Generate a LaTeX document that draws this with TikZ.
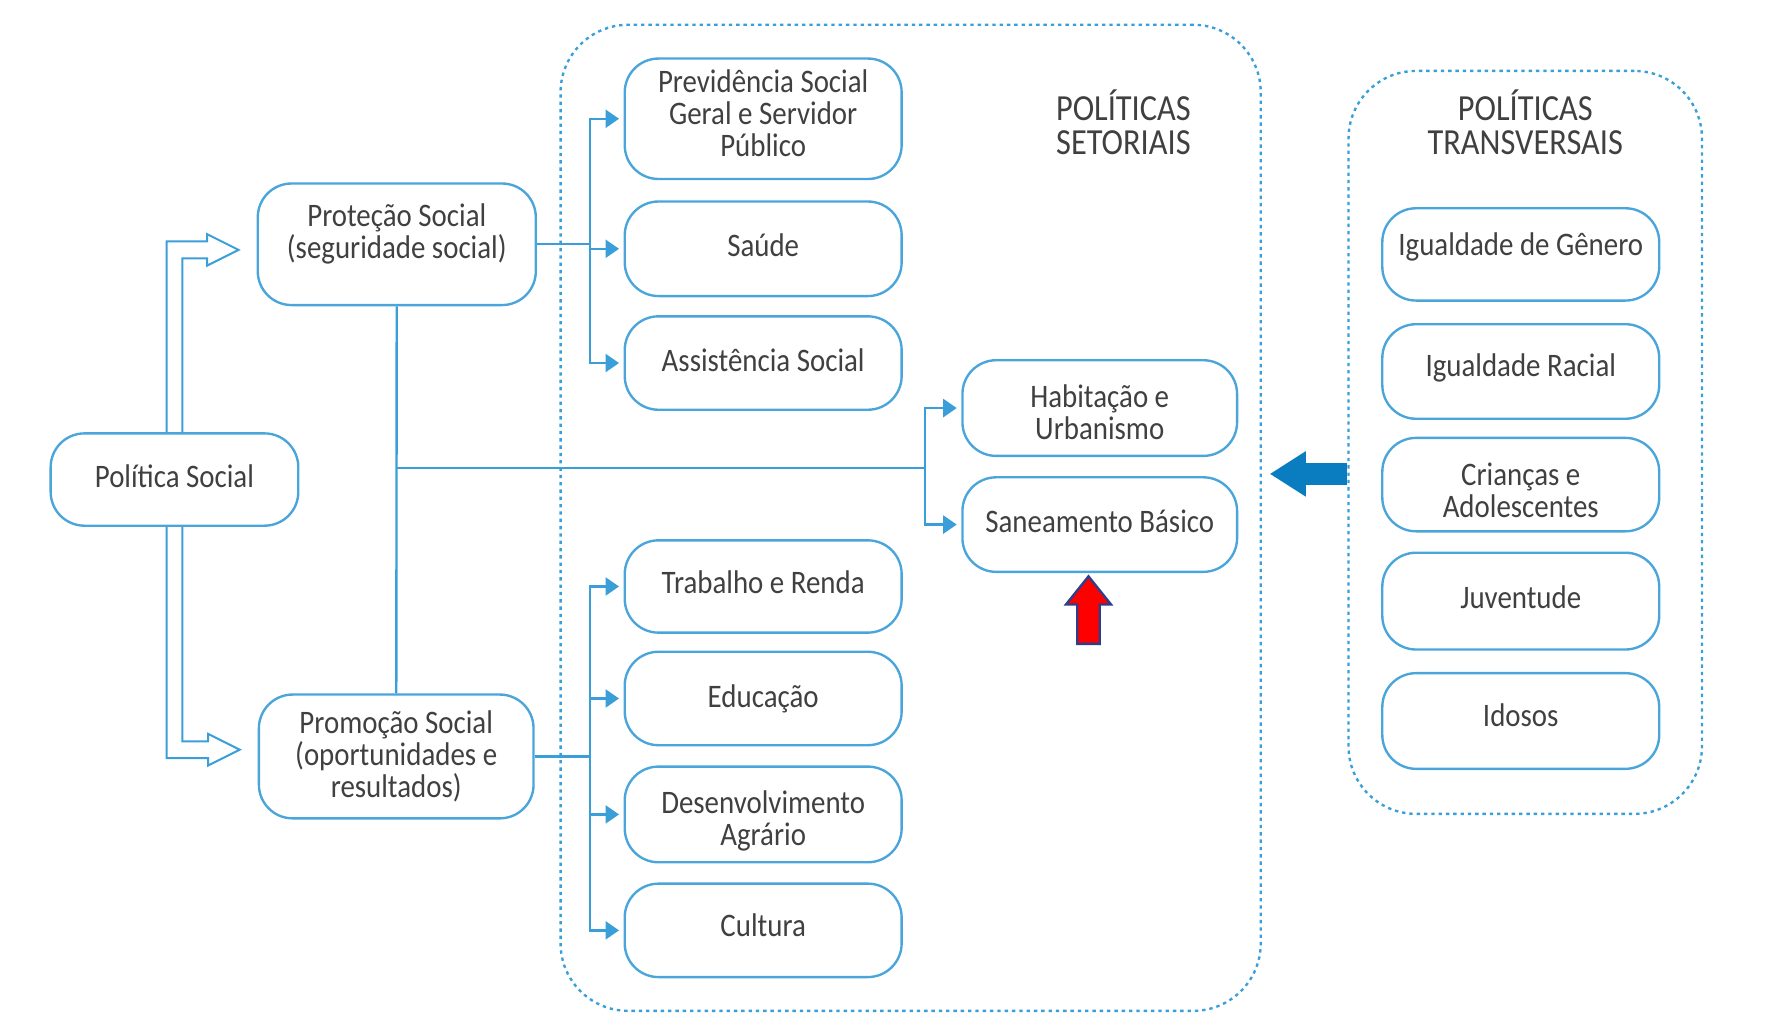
\documentclass[tikz,border=0pt]{standalone}
\usepackage{fontspec}
\setmainfont{Carlito}[FakeStretch=0.88]
\usetikzlibrary{arrows.meta,calc}
\definecolor{lineblue}{HTML}{3A9FD9}
\definecolor{boxblue}{HTML}{4AA5DA}
\definecolor{arrowblue}{HTML}{0A7DC0}
\definecolor{txtgray}{HTML}{404040}
\definecolor{navyline}{HTML}{2F3E8A}

\begin{document}
\begin{tikzpicture}
  \tikzstyle{box}=[draw=boxblue, line width=0.6pt, rounded corners=3mm, minimum width=2.46cm, inner sep=1pt, align=center, text=txtgray, font=\fontsize{8.3}{8.1}\selectfont]
  \tikzstyle{group}=[draw=lineblue, line width=0.6pt, dash pattern=on 0.3mm off 0.35mm, rounded corners=6mm]
  \tikzstyle{title}=[align=center, text=txtgray, font=\fontsize{9.3}{8.4}\selectfont]
  \tikzstyle{link}=[draw=lineblue, line width=0.6pt]
  \tikzstyle{arr}=[link, -{Triangle[length=1.2mm, width=1.6mm]}, shorten >=0.4mm]
  \tikzstyle{hollow}=[draw=lineblue, line width=0.5pt, line join=miter]
  \tikzstyle{bigarr}=[draw=arrowblue, line width=2mm, -{Triangle[length=3.2mm, width=3.8mm]}]
  \tikzstyle{redarr}=[draw=navyline, fill=red, line width=0.6pt, line join=miter]

  \useasboundingbox (0,0) rectangle (15.68,-9.14);

  % containers
  \node[group, minimum width=6.22cm, minimum height=8.76cm] (setor) at (8.09,-4.60) {};
  \node[group, minimum width=3.14cm, minimum height=6.60cm] (transv) at (13.55,-3.93) {};
  \node[title] (setortitle) at (9.98,-1.085) {POLÍTICAS\\SETORIAIS};
  \node[title] (transvtitle) at (13.55,-1.085) {POLÍTICAS\\TRANSVERSAIS};

  % left side
  \node[box, minimum width=2.20cm, minimum height=0.82cm, text depth=1.7pt] (ps) at (1.55,-4.26) {Política Social};
  \node[box, minimum width=2.47cm, minimum height=1.08cm, text depth=6.6pt] (prot) at (3.525,-2.17) {Proteção Social\\(seguridade social)};
  \node[box, minimum width=2.44cm, minimum height=1.10cm] (prom) at (3.52,-6.72) {Promoção Social\\(oportunidades e\\resultados)};

  % setoriais
  \node[box, minimum height=1.07cm, text depth=2.8pt] (prev) at (6.78,-1.055) {Previdência Social\\Geral e Servidor\\Público};
  \node[box, minimum height=0.84cm, text depth=1.7pt] (sau)  at (6.78,-2.21)  {Saúde};
  \node[box, minimum height=0.83cm, text depth=1.7pt] (ass)  at (6.78,-3.225) {Assistência Social};
  \node[box, minimum height=0.82cm, text depth=2.3pt] (trab) at (6.78,-5.21)  {Trabalho e Renda};
  \node[box, minimum height=0.83cm] (edu)  at (6.78,-6.205) {Educação};
  \node[box, minimum height=0.85cm, text height=17pt] (des) at (6.78,-7.235) {Desenvolvimento\\Agrário};
  \node[box, minimum height=0.83cm, text depth=2.8pt] (cul)  at (6.78,-8.265) {Cultura};
  \node[box, minimum width=2.44cm, minimum height=0.85cm, text height=16.2pt] (hab) at (9.77,-3.625) {Habitação e\\Urbanismo};
  \node[box, minimum width=2.44cm, minimum height=0.84cm, text depth=1.7pt] (san) at (9.77,-4.66) {Saneamento Básico};

  % transversais
  \node[box, minimum height=0.82cm, text depth=5.1pt] (gen) at (13.51,-2.26)  {Igualdade de Gênero};
  \node[box, minimum height=0.84cm, text depth=3.4pt] (rac) at (13.51,-3.30)  {Igualdade Racial};
  \node[box, minimum height=0.83cm, text height=16.9pt] (cri) at (13.51,-4.305) {Crianças e\\Adolescentes};
  \node[box, minimum height=0.86cm, text depth=2pt] (juv) at (13.51,-5.34)  {Juventude};
  \node[box, minimum height=0.85cm, text depth=2.8pt] (ido) at (13.51,-6.405) {Idosos};

  % branches
  \coordinate (b1) at (5.24,-2.17);
  \coordinate (b2) at (5.24,-6.72);
  \coordinate (j1) at (3.525,-4.16);
  \coordinate (j2) at (8.22,-4.16);

  \draw[link] (prot) -- (b1);
  \draw[arr] (b1) |- (prev);
  \draw[arr] (b1) |- (sau);
  \draw[arr] (b1) |- (ass);

  \draw[link] (prom) -- (b2);
  \draw[arr] (b2) |- (trab);
  \draw[arr] (b2) |- (edu);
  \draw[arr] (b2) |- (des);
  \draw[arr] (b2) |- (cul);

  \draw[link] (prot) -- (prom);
  \draw[link] (j1) -- (j2);
  \draw[arr] (j2) |- (hab);
  \draw[arr] (j2) |- (san);

  % hollow arrows
  \coordinate (h1) at ($(prot.west)+(-1.6mm,-0.5mm)$);
  \coordinate (h2) at ($(prom.west)+(-1.6mm,0.6mm)$);
  \draw[hollow] ([xshift=-0.7mm]ps.north) |- ($(h1)+(-2.8mm,0.75mm)$) -- ++(0,0.65mm) -- (h1)
    -- ($(h1)+(-2.8mm,-1.4mm)$) -- ++(0,0.65mm) -| ([xshift=0.7mm]ps.north);
  \draw[hollow] ([xshift=-0.7mm]ps.south) |- ($(h2)+(-2.8mm,-0.75mm)$) -- ++(0,-0.65mm) -- (h2)
    -- ($(h2)+(-2.8mm,1.4mm)$) -- ++(0,-0.65mm) -| ([xshift=0.7mm]ps.south);

  % transversais -> setoriais
  \coordinate (bt) at (11.28,-4.21);
  \draw[bigarr] (transv.west |- bt) -- (bt);

  % red marker
  \coordinate (rt) at (9.67,-5.12);
  \draw[redarr] (rt) -- ++(2mm,-2.5mm) -- ++(-1mm,0) -- ++(0,-3.5mm) -- ++(-2mm,0)
    -- ++(0,3.5mm) -- ++(-1mm,0) -- cycle;
\end{tikzpicture}
\end{document}
